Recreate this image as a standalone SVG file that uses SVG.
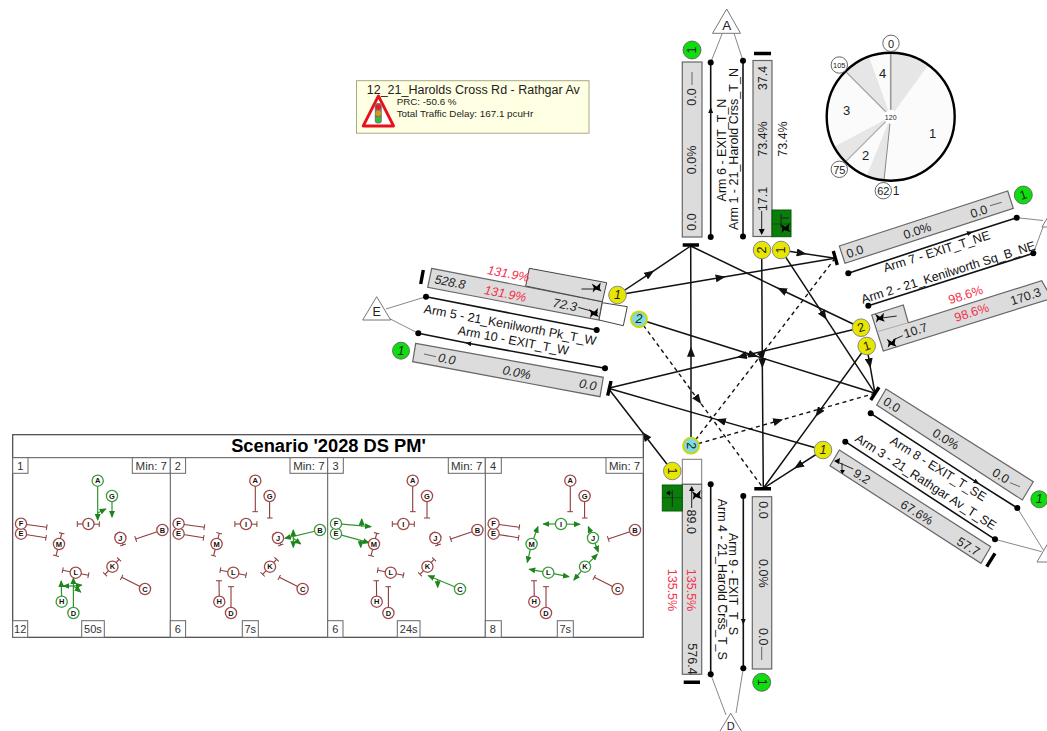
<svg xmlns="http://www.w3.org/2000/svg" width="1047" height="731" viewBox="0 0 1047 731">
<style>
text{font-family:"Liberation Sans",Arial,sans-serif;fill:#222;text-anchor:middle;dominant-baseline:central;stroke:none}
.d{font-size:12.5px}.i{font-style:italic}.r{fill:#f4304a}
.a{font-size:12.5px;fill:#111}
.lane{fill:#dcdcdc;stroke:#666;stroke-width:1.2}
.bar{stroke:#000;stroke-width:3.4;fill:none}
.ln{stroke:#111;stroke-width:1.6;fill:none}
.thin{stroke:#888;stroke-width:1;fill:none}
.dot{fill:#000}
.tri{fill:#fff;stroke:#777;stroke-width:1}
.y{fill:#e6e600;stroke:#888;stroke-width:1}
.c{fill:#7fdcdc;stroke:#d4d400;stroke-width:1.8}
.gr{fill:#10dd10;stroke:#555;stroke-width:.8}
.gb{fill:#0a7d0a;stroke:#075a07;stroke-width:1}
.sig{stroke:#222;stroke-width:1;fill:none}
.bl{fill:#000}
.cn{stroke:#111;stroke-width:1.5;fill:none;marker-mid:url(#a)}
.cd{stroke:#111;stroke-width:1.4;fill:none;stroke-dasharray:4 3.5;marker-mid:url(#a)}
.lm{marker-mid:url(#s)}
.w{fill:#e6e6e6}
.cell{fill:#fff;stroke:#666;stroke-width:1}
.t{font-size:11px;fill:#333}.m{font-size:11.5px;fill:#333}
.nc{fill:#fff;stroke-width:1.3}
.nl{font-size:7.5px;fill:#111;stroke:none;font-weight:bold}
.rn{stroke:#a04848}.gn{stroke:#3a9a3a}
.st{stroke:#8c3a3a;stroke-width:1.1;fill:none;marker-end:url(#t)}
.go{stroke:#2f942f;stroke-width:1.2;fill:none;marker-end:url(#g)}
</style>
<defs>
<marker id="a" viewBox="0 0 10 8" refX="5" refY="4" markerWidth="10" markerHeight="8" markerUnits="userSpaceOnUse" orient="auto"><path d="M0 0L10 4L0 8z" fill="#111"/></marker>
<marker id="s" viewBox="0 0 6 5" refX="3" refY="2.5" markerWidth="6" markerHeight="5" markerUnits="userSpaceOnUse" orient="auto"><path d="M0 0L6 2.5L0 5z" fill="#111"/></marker>
<marker id="t" viewBox="0 0 2 6" refX="1" refY="3" markerWidth="2" markerHeight="6" markerUnits="userSpaceOnUse" orient="auto"><path d="M1 0V6" stroke="#8c3a3a" stroke-width="1"/></marker>
<marker id="g" viewBox="0 0 7 6" refX="6" refY="3" markerWidth="7" markerHeight="6" markerUnits="userSpaceOnUse" orient="auto"><path d="M0 0L7 3L0 6z" fill="#1c861c"/></marker>
<g id="nA"><circle class="nc" cx="85" cy="480.7" r="5.6"/><text class="nl" x="85" y="480.9">A</text></g>
<g id="nB"><circle class="nc" cx="149.7" cy="530" r="5.6"/><text class="nl" x="149.7" y="530.2">B</text></g>
<g id="nC"><circle class="nc" cx="132.3" cy="589" r="5.6"/><text class="nl" x="132.3" y="589.2">C</text></g>
<g id="nD"><circle class="nc" cx="60.7" cy="613" r="5.6"/><text class="nl" x="60.7" y="613.2">D</text></g>
<g id="nE"><circle class="nc" cx="8.3" cy="533.7" r="5.6"/><text class="nl" x="8.3" y="533.9">E</text></g>
<g id="nF"><circle class="nc" cx="8.3" cy="523.7" r="5.6"/><text class="nl" x="8.3" y="523.9">F</text></g>
<g id="nG"><circle class="nc" cx="99.3" cy="496" r="5.6"/><text class="nl" x="99.3" y="496.2">G</text></g>
<g id="nH"><circle class="nc" cx="49" cy="601.7" r="5.6"/><text class="nl" x="49" y="601.9">H</text></g>
<g id="nI"><circle class="nc" cx="75.7" cy="524" r="5.6"/><text class="nl" x="75.7" y="524.2">I</text></g>
<g id="nJ"><circle class="nc" cx="107.7" cy="538" r="5.6"/><text class="nl" x="107.7" y="538.2">J</text></g>
<g id="nK"><circle class="nc" cx="99.7" cy="566.7" r="5.6"/><text class="nl" x="99.7" y="566.9">K</text></g>
<g id="nL"><circle class="nc" cx="63" cy="572.7" r="5.6"/><text class="nl" x="63" y="572.9">L</text></g>
<g id="nM"><circle class="nc" cx="46.3" cy="544" r="5.6"/><text class="nl" x="46.3" y="544.2">M</text></g>
<path id="sA" d="M85 480.7V511.7"/><path id="sG" d="M99.3 496V518"/>
<path id="sF" d="M8.3 523.7L34 527.3"/><path id="sE" d="M8.3 533.7L33.3 537.7"/>
<path id="sI1" d="M75.7 524H64.6"/><path id="sI2" d="M75.7 524L86.6 524.3"/>
<path id="sJ1" d="M107.7 538L104.6 533.3"/><path id="sJ2" d="M107.7 538L110.3 545"/>
<path id="sB" d="M149.7 530L123 539"/>
<path id="sM1" d="M46.3 544L49 533.3"/><path id="sM2" d="M46.3 544L43.3 555.7"/>
<path id="sL1" d="M63 572.7L50 570.3"/><path id="sL2" d="M63 572.7L75.7 575.3"/>
<path id="sK1" d="M99.7 566.7L106.3 559.3"/><path id="sK2" d="M99.7 566.7L92.3 574.3"/>
<path id="sC" d="M132.3 589L109 577.3"/><path id="sH" d="M49 601.7L48.7 580.7"/><path id="sD" d="M60.7 613V586.7"/>
<path id="blob" class="bl" d="M-5 -4L0 -1L4 -5L3 1L5 4L-1 2L-4 5L-3 0z"/>
</defs>

<g id="connectors">
<polyline class="cn" points="617.3,295 650,273.3 690.7,246"/>
<polyline class="cn" points="617.3,295 720.7,277.5 835,258.3"/>
<polyline class="cn" points="639,319.3 753.3,355.2 875,393.3"/>
<polyline class="cd" points="639,319.3 698.3,400 763.3,488.3"/>
<polyline class="cn" points="691,445.7 691,351.7 690.7,246"/>
<polyline class="cd" points="691,445.7 763,352.5 835,258.3"/>
<polyline class="cd" points="691,445.7 778.3,420.8 875,393.3"/>
<polyline class="cn" points="672.3,471 645,435.7 608.3,388.3"/>
<polyline class="cn" points="761.7,250 762.3,363.3 763.3,488.3"/>
<polyline class="cn" points="781,250 801.7,253.2 835,258.3"/>
<polyline class="cn" points="781,250 824,315.6 875,393.3"/>
<polyline class="cn" points="861,327.7 781.7,290 690.7,246"/>
<polyline class="cn" points="861,327.7 741.7,356.3 608.3,388.3"/>
<polyline class="cn" points="866.7,346 869.6,363.3 875,393.3"/>
<polyline class="cn" points="866.7,346 818.3,412.6 763.3,488.3"/>
<polyline class="cn" points="823,450 798.3,465.8 763.3,488.3"/>
<polyline class="cn" points="823,450 720.7,420.6 608.3,388.3"/>
</g>

<g id="tooltip">
<rect x="356.5" y="80.7" width="232.5" height="52.5" fill="#ffffe3" stroke="#a8a888" stroke-width="1"/>
<text x="473.3" y="90" style="font-size:12.5px">12_21_Harolds Cross Rd - Rathgar Av</text>
<text x="396.7" y="101" style="font-size:9.8px;text-anchor:start">PRC: -50.6 %</text>
<text x="396.7" y="113" style="font-size:9.8px;text-anchor:start">Total Traffic Delay: 167.1 pcuHr</text>
<path d="M378.4 96L393.6 126H363.2z" fill="#fff" stroke="#e8101c" stroke-width="2.8" stroke-linejoin="round"/>
<rect x="374.8" y="103" width="7" height="20.5" rx="3" fill="#777"/>
<circle cx="378.3" cy="107" r="2.8" fill="#e02020"/><circle cx="378.3" cy="113.2" r="2.8" fill="#d89a10"/><circle cx="378.3" cy="119.5" r="2.8" fill="#30c030"/>
</g>

<g id="phase-ring">
<circle cx="890.7" cy="116.7" r="64" fill="#fbfbfb"/>
<path class="w" d="M890.7 116.7L890.7 53.7A63 63 0 0 1 927.7 65.7z"/>
<path class="w" d="M890.7 116.7L884.1 179.4A63 63 0 0 1 867.1 175.1z"/>
<path class="w" d="M890.7 116.7L846.2 161.2A63 63 0 0 1 835.1 146.3z"/>
<path class="w" d="M890.7 116.7L846.2 72.2A63 63 0 0 1 869.2 57.5z"/>
<path d="M890.7 116.7V53.7" stroke="#999" stroke-width="1.6"/>
<path d="M890.7 116.7L884.1 179.4" stroke="#888" stroke-width="1"/>
<path d="M890.7 116.7L846.2 161.2" stroke="#aaa" stroke-width="1.2"/>
<path d="M890.7 116.7L846.2 72.2" stroke="#999" stroke-width="1.2"/>
<circle cx="890.7" cy="116.7" r="7" fill="#fff"/>
<circle cx="890.7" cy="116.7" r="64" fill="none" stroke="#000" stroke-width="2.4"/>
<text x="890.7" y="117" style="font-size:7px">120</text>
<text x="932.7" y="133" style="font-size:13px">1</text><text x="865.7" y="155" style="font-size:13px">2</text>
<text x="846.7" y="110.7" style="font-size:13px">3</text><text x="882.7" y="73.7" style="font-size:13px">4</text>
<circle cx="891" cy="43.3" r="8.2" fill="#fff" stroke="#666"/><text x="891" y="43.5" style="font-size:11px">0</text>
<circle cx="839.3" cy="65" r="8.2" fill="#fff" stroke="#666"/><text x="839.3" y="65.2" style="font-size:7.5px">105</text>
<circle cx="839.3" cy="169.3" r="8.2" fill="#fff" stroke="#666"/><text x="839.3" y="169.5" style="font-size:11px">75</text>
<circle cx="883.3" cy="190.7" r="8.2" fill="#fff" stroke="#666"/><text x="883.3" y="190.9" style="font-size:11px">62</text>
<text x="896" y="191" style="font-size:12px">1</text>
</g>

<g id="arm-north">
<path class="thin" d="M722.3 33.3L710.7 62.5M734 33.3L743 60.7"/>
<path class="tri" d="M726.7 9L740.5 33.3H712.5z"/><text x="726.7" y="25" style="font-size:13.5px">A</text>
<rect class="lane" x="682.3" y="62" width="19.7" height="175"/>
<rect class="lane" x="753" y="60.5" width="19" height="176"/>
<path class="bar" d="M682.7 245H699M754 53.5H771"/>
<circle class="gr" cx="692" cy="50" r="9"/><text x="692" y="50" class="d" transform="rotate(-90 692 50)">1</text>
<polyline class="ln lm" points="710.7,237 710.7,110 710.7,62.5"/>
<polyline class="ln" points="743,60.7 743,236.5"/>
<circle class="dot" cx="710.7" cy="62.5" r="3"/><circle class="dot" cx="710.7" cy="237" r="3"/><circle class="dot" cx="743" cy="60.7" r="3"/><circle class="dot" cx="743" cy="236.5" r="3"/>
<text class="d" x="692" y="97" transform="rotate(-90 692 97)">0.0</text><path d="M692 85V72" stroke="#666"/>
<text class="d" x="692" y="160" transform="rotate(-90 692 160)">0.0%</text>
<text class="d" x="692" y="222" transform="rotate(-90 692 222)">0.0</text>
<text class="a" x="722" y="150" transform="rotate(-90 722 150)">Arm 6 - EXIT_T_N</text>
<text class="a" x="734" y="149" transform="rotate(-90 734 149)">Arm 1 - 21_Harold Crss_T_N</text>
<text class="d" x="763.3" y="78" transform="rotate(-90 763.3 78)">37.4</text>
<text class="d" x="763.3" y="139" transform="rotate(-90 763.3 139)">73.4%</text>
<text class="d" x="783" y="139" transform="rotate(-90 783 139)">73.4%</text>
<text class="d" x="763.3" y="199" transform="rotate(-90 763.3 199)">17.1</text>
<path class="sig" d="M761.7 211V233"/><path class="bl" d="M758.7 229H764.7L761.7 235z"/>
<rect class="gb" x="772" y="210" width="19" height="26.7"/><path d="M772 224H791" stroke="#075a07"/>
<path class="sig" d="M781 214V228M781 218H789"/><use href="#blob" x="785.5" y="228"/>
</g>

<g id="arm-west">
<path class="thin" d="M386 309L426 296.7M389 318.3L418.3 333.3"/>
<path class="tri" d="M376.7 296.7L390.7 320H362.7z"/><text x="376.7" y="312.3" style="font-size:12.5px">E</text>
<polygon class="lane" points="431.7,268.3 602.3,301.7 599,320 427.7,287.3"/>
<polygon points="525.7,286 529.3,268.3 606.7,282.7 602.3,301.7" fill="#dcdcdc" stroke="#444" stroke-width="1"/>
<polygon points="602.3,302.7 627.3,306.7 623.3,325.7 599,320" fill="#fff" stroke="#444" stroke-width="1"/>
<path class="bar" d="M423.3 270L420.7 284M611 381L607.7 395.7"/>
<polyline class="ln" points="426,296.7 596.7,330"/>
<polyline class="ln lm" points="605,368.3 468.3,343.3 418.3,333.3"/>
<circle class="dot" cx="426" cy="296.7" r="3"/><circle class="dot" cx="596.7" cy="330" r="3"/><circle class="dot" cx="418.3" cy="333.3" r="3"/><circle class="dot" cx="605" cy="368.3" r="3"/>
<polygon class="lane" points="415.7,343.3 603.3,377.3 600,396.7 412.7,361.7"/>
<circle class="gr" cx="401" cy="350.7" r="8.5"/><text class="d i" x="401" y="350.7">1</text>
<text class="d i" x="450" y="282.3" transform="rotate(10.7 450 282.3)">528.8</text>
<text class="d i r" x="508.3" y="274" transform="rotate(10.7 508.3 274)">131.9%</text>
<text class="d i r" x="505.3" y="294" transform="rotate(10.7 505.3 294)">131.9%</text>
<text class="d i" x="565" y="305" transform="rotate(10.7 565 305)">72.3</text>
<path class="sig" d="M581.5 289H600M578.3 307.3L598 313"/><use href="#blob" x="596.7" y="287.5"/><use href="#blob" x="594" y="313"/>
<text class="a" x="510" y="325" transform="rotate(10.7 510 325)">Arm 5 - 21_Kenilworth Pk_T_W</text>
<text class="a" x="513.3" y="340.7" transform="rotate(10.7 513.3 340.7)">Arm 10 - EXIT_T_W</text>
<text class="d i" x="446.7" y="359.3" transform="rotate(10.7 446.7 359.3)">0.0</text><path d="M424 354L436 356.7" stroke="#666"/>
<text class="d i" x="516.7" y="372.7" transform="rotate(10.7 516.7 372.7)">0.0%</text>
<text class="d i" x="587.7" y="385" transform="rotate(10.7 587.7 385)">0.0</text>
</g>

<g id="arm-northeast">
<path class="thin" d="M1016.7 217.7L1043 220.5M1033.3 253.3L1043 227"/>
<path class="tri" d="M1056 203L1070 227H1042z"/>
<polygon class="lane" points="839.3,246 1007.7,191 1013.3,208.3 845,263.3"/>
<path class="bar" d="M833.3 251L837.3 265"/>
<circle class="gr" cx="1023.3" cy="195" r="9"/><text class="d" x="1023.3" y="195" transform="rotate(-18 1023.3 195)">1</text>
<polyline class="ln lm" points="848.3,273.3 970,232.7 1016.7,217.7"/>
<polyline class="ln" points="868.3,305.7 1033.3,253.3"/>
<circle class="dot" cx="848.3" cy="273.3" r="3"/><circle class="dot" cx="1016.7" cy="217.7" r="3"/><circle class="dot" cx="868.3" cy="305.7" r="3"/><circle class="dot" cx="1033.3" cy="253.3" r="3"/>
<text class="a" x="936.7" y="251.7" transform="rotate(-17.5 936.7 251.7)">Arm 7 - EXIT_T_NE</text>
<text class="a" x="948.3" y="272.7" transform="rotate(-17.5 948.3 272.7)">Arm 2 - 21_Kenilworth Sq_B_NE</text>
<text class="d" x="855" y="251.7" transform="rotate(-18 855 251.7)">0.0</text>
<text class="d" x="917.3" y="231" transform="rotate(-18 917.3 231)">0.0%</text>
<text class="d" x="979" y="211.7" transform="rotate(-18 979 211.7)">0.0</text><path d="M990 205.7L1001.7 202.3" stroke="#666"/>
<polygon class="lane" points="871.7,315 903.3,305 908.3,322.7 1041.7,280.7 1051.7,298.3 883.3,351"/>
<path d="M877.3 331.7L908.3 322.7" stroke="#aaa"/>
<text class="d r" x="965.7" y="295" transform="rotate(-18 965.7 295)">98.6%</text>
<text class="d r" x="971.7" y="312.7" transform="rotate(-18 971.7 312.7)">98.6%</text>
<text class="d" x="1025.7" y="296.7" transform="rotate(-18 1025.7 296.7)">170.3</text>
<text class="d" x="915.7" y="330.7" transform="rotate(-18 915.7 330.7)">10.7</text>
<path class="sig" d="M882 318L896.7 316M893 340L902.7 335.7"/><use href="#blob" x="880" y="317.7"/><use href="#blob" x="891.7" y="342.7"/>
</g>

<g id="arm-southeast">
<path class="thin" d="M1017.3 508L1043.3 550M995 539.3L1041.7 551.7"/>
<path class="tri" d="M1051 538L1065 562H1037z"/>
<polygon class="lane" points="886,389 1033.3,481.7 1022.3,500 876.7,405"/>
<path class="bar" d="M879 387.3L870.7 400M995 553.3L986.7 566.7"/>
<circle class="gr" cx="1039.3" cy="499.3" r="8.5"/><text class="d i" x="1039.3" y="499.3">1</text>
<polyline class="ln lm" points="870.7,413.3 976.7,482.3 1017.3,508"/>
<polyline class="ln" points="845.3,441.7 995,539.3"/>
<circle class="dot" cx="870.7" cy="413.3" r="3"/><circle class="dot" cx="1017.3" cy="508" r="3"/><circle class="dot" cx="845.3" cy="441.7" r="3"/><circle class="dot" cx="995" cy="539.3" r="3"/>
<text class="a" x="938.3" y="469" transform="rotate(32 938.3 469)">Arm 8 - EXIT_T_SE</text>
<text class="a" x="925.7" y="482" transform="rotate(33 925.7 482)">Arm 3 - 21_Rathgar Av_T_SE</text>
<text class="d" x="891.7" y="405" transform="rotate(32 891.7 405)">0.0</text>
<text class="d" x="945.7" y="439.3" transform="rotate(32 945.7 439.3)">0.0%</text>
<text class="d" x="1000.7" y="476" transform="rotate(32 1000.7 476)">0.0</text><path d="M1010 482.7L1020 486.7" stroke="#666"/>
<polygon class="lane" points="839.3,450 990.7,546.7 981,563.3 830,465.7"/>
<text class="d" x="861.7" y="476.7" transform="rotate(32 861.7 476.7)">9.2</text>
<text class="d" x="916.7" y="512.7" transform="rotate(32 916.7 512.7)">67.6%</text>
<text class="d" x="968.3" y="546.7" transform="rotate(32 968.3 546.7)">57.7</text>
<path class="sig" d="M835 461L853.3 469M842 463V472"/><path class="bl" d="M834 461L840 458L839 464zM840 470H845L842.5 474z"/>
</g>

<g id="arm-south">
<path class="thin" d="M710.7 674.3L726 715M743.3 668.3L736 713"/>
<path class="tri" d="M730.7 713.3L745 737H716.4z"/><text x="730.7" y="725.6" style="font-size:11px">D</text>
<rect x="682.3" y="459.3" width="19.4" height="25" fill="#fff" stroke="#777"/>
<rect class="lane" x="682.3" y="484.3" width="19.4" height="190"/>
<rect class="gb" x="662.3" y="485" width="20" height="26"/><path d="M662.3 497.7H682.3" stroke="#075a07"/>
<path class="sig" d="M667 493H672.3M672.3 490V507"/><path class="bl" d="M666 493L670 490.5V495.5z"/>
<path class="bar" d="M683.7 682.3H700M754.3 488.7H771"/>
<path class="sig" d="M691.7 508V489"/><path class="bl" d="M689 491H694.4L691.7 486z"/><use href="#blob" x="696.7" y="495"/>
<text class="d" x="691" y="521.7" transform="rotate(90 691 521.7)">89.0</text>
<text class="d r" x="691" y="590" transform="rotate(90 691 590)">135.5%</text>
<text class="d r" x="671.7" y="590" transform="rotate(90 671.7 590)">135.5%</text>
<text class="d" x="691.7" y="659" transform="rotate(90 691.7 659)">576.4</text>
<polyline class="ln" points="710.7,484.3 710.7,674.3"/>
<polyline class="ln lm" points="743.3,496 743.3,621.7 743.3,668.3"/>
<circle class="dot" cx="710.7" cy="484.3" r="3"/><circle class="dot" cx="710.7" cy="674.3" r="3"/><circle class="dot" cx="743.3" cy="496" r="3"/><circle class="dot" cx="743.3" cy="668.3" r="3"/>
<text class="a" x="721.7" y="579.3" transform="rotate(90 721.7 579.3)">Arm 4 - 21_Harold Crss_T_S</text>
<text class="a" x="733.3" y="584" transform="rotate(90 733.3 584)">Arm 9 - EXIT_T_S</text>
<rect class="lane" x="752.3" y="496.7" width="19.4" height="172.3"/>
<text class="d" x="762.7" y="510" transform="rotate(90 762.7 510)">0.0</text>
<text class="d" x="762.7" y="573.3" transform="rotate(90 762.7 573.3)">0.0%</text>
<text class="d" x="762.7" y="636.7" transform="rotate(90 762.7 636.7)">0.0</text><path d="M761.7 646.7V660" stroke="#666"/>
<circle class="gr" cx="761.7" cy="682.3" r="9"/><text class="d" x="761.7" y="682.3" transform="rotate(90 761.7 682.3)">1</text>
</g>

<g id="stream-nodes">
<circle class="y" cx="617.5" cy="295" r="8.8"/><text class="d i" x="617.5" y="295">1</text>
<circle class="c" cx="639" cy="319.3" r="8"/><text class="d i" x="639" y="319.3">2</text>
<circle class="y" cx="762" cy="250" r="8.8"/><text class="d" x="762" y="250" transform="rotate(-90 762 250)">2</text>
<circle class="y" cx="781" cy="250" r="8.8"/><text class="d" x="781" y="250" transform="rotate(-90 781 250)">1</text>
<circle class="y" cx="861" cy="327.7" r="8.8"/><text class="d" x="861" y="327.7" transform="rotate(-18 861 327.7)">2</text>
<circle class="y" cx="866.7" cy="346" r="8.8"/><text class="d" x="866.7" y="346" transform="rotate(-18 866.7 346)">1</text>
<circle class="y" cx="823" cy="450" r="8.8"/><text class="d i" x="823" y="450">1</text>
<circle class="c" cx="691" cy="445.7" r="8"/><text class="d" x="691" y="445.7" transform="rotate(90 691 445.7)">2</text>
<circle class="y" cx="672.3" cy="471" r="8.8"/><text class="d" x="672.3" y="471" transform="rotate(90 672.3 471)">1</text>
</g>

<g id="scenario">
<rect x="12.7" y="434.7" width="630.6" height="202.6" fill="#fff" stroke="#444" stroke-width="1.2"/>
<path d="M12.7 457.7H643.3M170.3 457.7V637.3M327.7 457.7V637.3M485.3 457.7V637.3" stroke="#555" fill="none"/>
<text x="328.5" y="445.2" style="font-size:18.3px;font-weight:bold;fill:#000">Scenario '2028 DS PM'</text>

<g id="stage-1" transform="translate(12.7 0)">
<rect class="cell" x="0" y="457.7" width="15.3" height="15.6"/><text class="t" x="7.5" y="465.5">1</text>
<rect class="cell" x="119.6" y="457.7" width="38" height="15.6"/><text class="m" x="138.6" y="465.5">Min: 7</text>
<rect class="cell" x="0" y="620.7" width="15" height="16.6"/><text class="t" x="7.5" y="628.8">12</text>
<rect class="cell" x="69" y="620.7" width="22.6" height="16.6"/><text class="t" x="80.3" y="628.8">50s</text>
<use href="#sF" class="st"/><use href="#sE" class="st"/><use href="#sI1" class="st"/><use href="#sI2" class="st"/><use href="#sJ1" class="st"/><use href="#sJ2" class="st"/><use href="#sB" class="st"/><use href="#sM1" class="st"/><use href="#sM2" class="st"/><use href="#sL1" class="st"/><use href="#sL2" class="st"/><use href="#sK1" class="st"/><use href="#sK2" class="st"/><use href="#sC" class="st"/>
<path class="go" d="M85 480.7V520"/><path class="go" d="M85 513L93 509"/><path class="go" d="M99.3 496V517"/>
<path class="go" d="M60.7 613V578"/><path class="go" d="M60.7 586H50.6"/><path class="go" d="M60.7 586L69 585"/><path class="go" d="M60.7 586L68 592"/><path class="go" d="M49 601.7L48.5 581"/>
<use href="#nA" class="gn"/><use href="#nG" class="gn"/><use href="#nD" class="gn"/><use href="#nH" class="gn"/>
<use href="#nB" class="rn"/><use href="#nC" class="rn"/><use href="#nE" class="rn"/><use href="#nF" class="rn"/><use href="#nI" class="rn"/><use href="#nJ" class="rn"/><use href="#nK" class="rn"/><use href="#nL" class="rn"/><use href="#nM" class="rn"/>
</g>

<g id="stage-2" transform="translate(170.3 0)">
<rect class="cell" x="0" y="457.7" width="15.3" height="15.6"/><text class="t" x="7.5" y="465.5">2</text>
<rect class="cell" x="119.7" y="457.7" width="37.7" height="15.6"/><text class="m" x="138.6" y="465.5">Min: 7</text>
<rect class="cell" x="0" y="620.7" width="15.3" height="16.6"/><text class="t" x="7.5" y="628.8">6</text>
<rect class="cell" x="72" y="620.7" width="16" height="16.6"/><text class="t" x="80" y="628.8">7s</text>
<use href="#sA" class="st"/><use href="#sG" class="st"/><use href="#sF" class="st"/><use href="#sE" class="st"/><use href="#sI1" class="st"/><use href="#sI2" class="st"/><use href="#sJ1" class="st"/><use href="#sJ2" class="st"/><use href="#sM1" class="st"/><use href="#sM2" class="st"/><use href="#sL1" class="st"/><use href="#sL2" class="st"/><use href="#sK1" class="st"/><use href="#sK2" class="st"/><use href="#sC" class="st"/><use href="#sH" class="st"/><use href="#sD" class="st"/>
<path class="go" d="M149.7 530L114.6 538.3"/><path class="go" d="M123 538.3V530"/><path class="go" d="M123 538.3V547.3"/><path class="go" d="M123 538.3L130.3 544"/>
<use href="#nB" class="gn"/>
<use href="#nA" class="rn"/><use href="#nG" class="rn"/><use href="#nC" class="rn"/><use href="#nD" class="rn"/><use href="#nE" class="rn"/><use href="#nF" class="rn"/><use href="#nH" class="rn"/><use href="#nI" class="rn"/><use href="#nJ" class="rn"/><use href="#nK" class="rn"/><use href="#nL" class="rn"/><use href="#nM" class="rn"/>
</g>

<g id="stage-3" transform="translate(327.7 0)">
<rect class="cell" x="0" y="457.7" width="15.6" height="15.6"/><text class="t" x="7.8" y="465.5">3</text>
<rect class="cell" x="120.6" y="457.7" width="37" height="15.6"/><text class="m" x="139" y="465.5">Min: 7</text>
<rect class="cell" x="0" y="620.7" width="15.3" height="16.6"/><text class="t" x="7.5" y="628.8">6</text>
<rect class="cell" x="69.6" y="620.7" width="22.7" height="16.6"/><text class="t" x="81" y="628.8">24s</text>
<use href="#sA" class="st"/><use href="#sG" class="st"/><use href="#sI1" class="st"/><use href="#sI2" class="st"/><use href="#sJ1" class="st"/><use href="#sJ2" class="st"/><use href="#sB" class="st"/><use href="#sM1" class="st"/><use href="#sM2" class="st"/><use href="#sL1" class="st"/><use href="#sL2" class="st"/><use href="#sK1" class="st"/><use href="#sK2" class="st"/><use href="#sH" class="st"/><use href="#sD" class="st"/>
<path class="go" d="M8.3 523.7L43.3 526.7"/><path class="go" d="M34 526.7V519"/><path class="go" d="M8.3 533.7L41.3 542.7"/><path class="go" d="M33 540V547.3"/><path class="go" d="M132.3 589L100.7 575.7"/><path class="go" d="M110 580V587.3"/>
<use href="#nE" class="gn"/><use href="#nF" class="gn"/><use href="#nC" class="gn"/>
<use href="#nA" class="rn"/><use href="#nB" class="rn"/><use href="#nD" class="rn"/><use href="#nG" class="rn"/><use href="#nH" class="rn"/><use href="#nI" class="rn"/><use href="#nJ" class="rn"/><use href="#nK" class="rn"/><use href="#nL" class="rn"/><use href="#nM" class="rn"/>
</g>

<g id="stage-4" transform="translate(485.3 0)">
<rect class="cell" x="0" y="457.7" width="16" height="15.6"/><text class="t" x="7.8" y="465.5">4</text>
<rect class="cell" x="120.7" y="457.7" width="37.3" height="15.6"/><text class="m" x="139.3" y="465.5">Min: 7</text>
<rect class="cell" x="0" y="620.7" width="16" height="16.6"/><text class="t" x="7.5" y="628.8">8</text>
<rect class="cell" x="72" y="620.7" width="16" height="16.6"/><text class="t" x="80" y="628.8">7s</text>
<use href="#sA" class="st"/><use href="#sG" class="st"/><use href="#sF" class="st"/><use href="#sE" class="st"/><use href="#sB" class="st"/><use href="#sC" class="st"/><use href="#sH" class="st"/><use href="#sD" class="st"/>
<path class="go" d="M75.7 524H58"/><path class="go" d="M75.7 524L94.6 524.3"/><path class="go" d="M107.7 538L103 526.7"/><path class="go" d="M107.7 538L113 551.7"/><path class="go" d="M46.3 544L52.6 526.7"/><path class="go" d="M46.3 544L42 562.3"/><path class="go" d="M63 572.7L44 569.3"/><path class="go" d="M63 572.7L83.6 576.7"/><path class="go" d="M99.7 566.7L112 554.3"/><path class="go" d="M99.7 566.7L88.6 580"/>
<use href="#nI" class="gn"/><use href="#nJ" class="gn"/><use href="#nM" class="gn"/><use href="#nL" class="gn"/><use href="#nK" class="gn"/>
<use href="#nA" class="rn"/><use href="#nB" class="rn"/><use href="#nC" class="rn"/><use href="#nD" class="rn"/><use href="#nE" class="rn"/><use href="#nF" class="rn"/><use href="#nG" class="rn"/><use href="#nH" class="rn"/>
</g>
</g>
</svg>
